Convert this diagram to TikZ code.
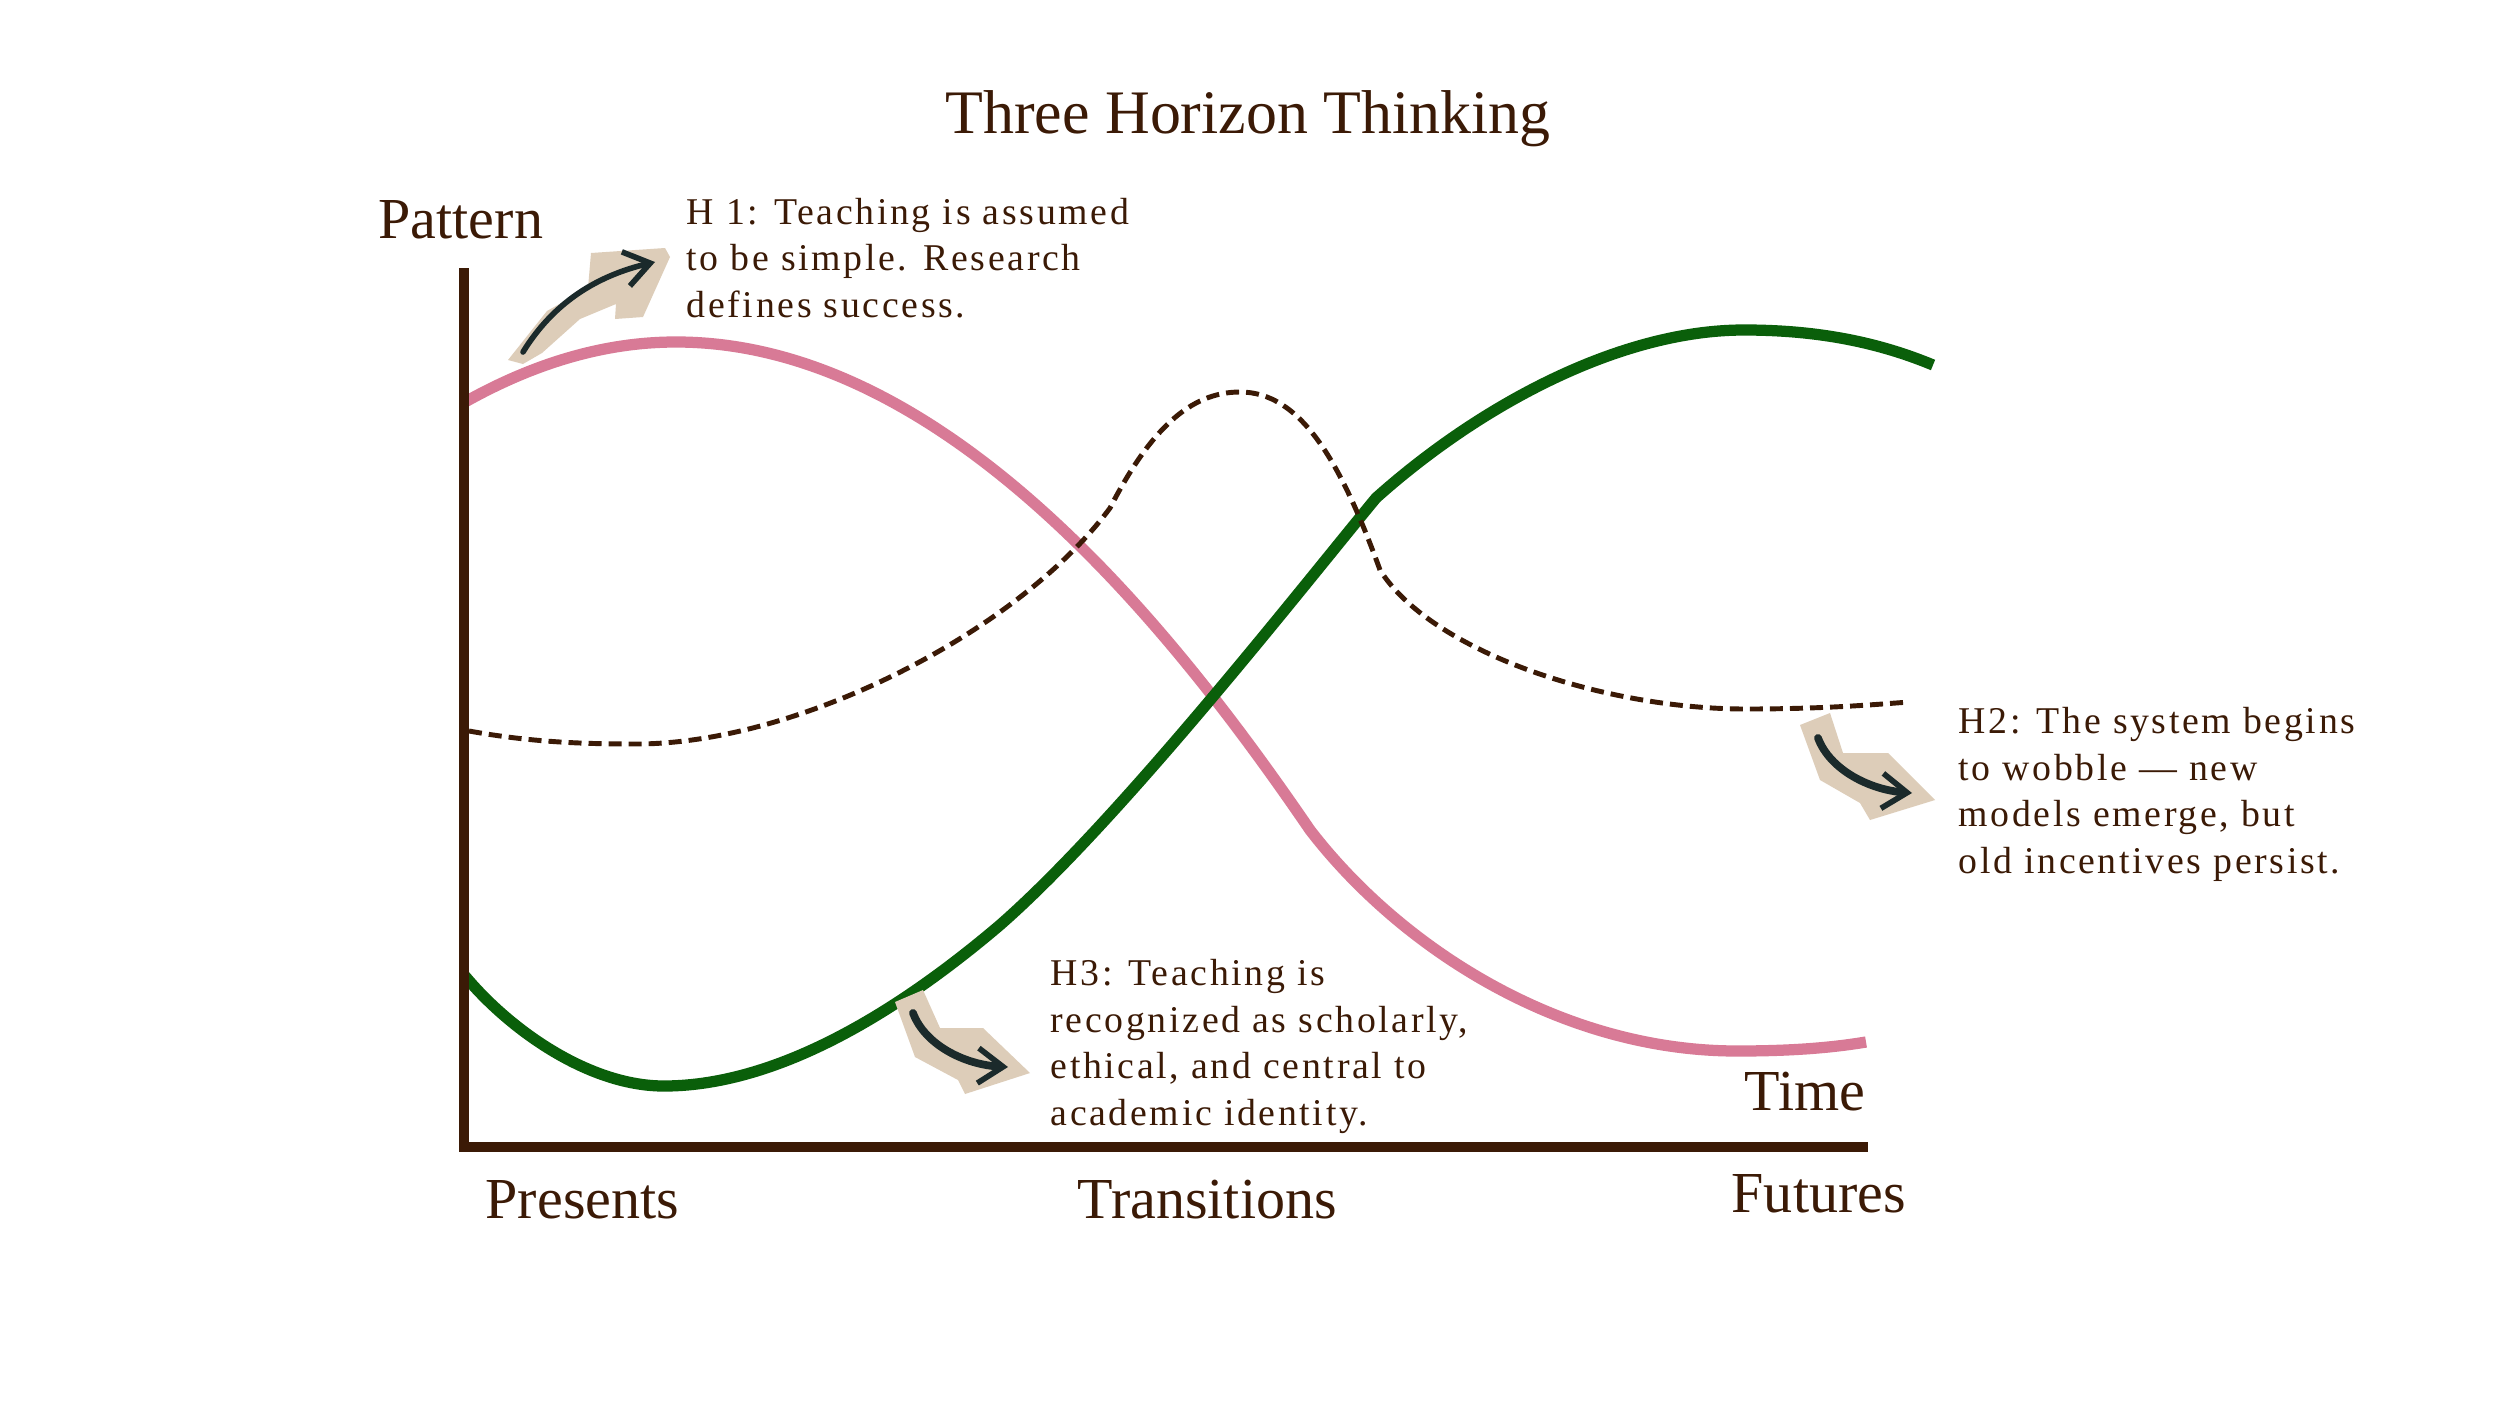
\documentclass[tikz,border=0pt]{standalone}
\usepackage{fontspec}
\setmainfont{Liberation Serif}
\newfontfamily\notefont[LetterSpace=7]{Liberation Serif}
\usetikzlibrary{arrows.meta}
\definecolor{inkbrown}{HTML}{3B1A06}
\definecolor{hpink}{HTML}{D87A96}
\definecolor{hgreen}{HTML}{0A5F0A}
\definecolor{paper}{HTML}{DDCDB9}
\definecolor{inkdark}{HTML}{1B2A2B}
\tikzset{
  axisline/.style={line width=3.1pt, inkbrown},
  hone/.style={line width=3.2pt, hpink, line join=round},
  htwo/.style={line width=1.4pt, inkbrown, dash pattern=on 3.7pt off 2pt},
  hthree/.style={line width=3.2pt, hgreen, line join=round},
  patch/.style={fill=paper, draw=none},
  brush/.style={inkdark, line width=1.6pt, line cap=round,
    -{Straight Barb[length=0.25cm, width=0.35cm, line width=1.6pt]}},
  axislabel/.style={font=\fontsize{16.5}{19}\selectfont, text=inkbrown, inner sep=0pt},
  note/.style={font=\notefont\fontsize{10.75}{13.2}\selectfont, text=inkbrown,
    align=left, inner sep=0pt},
}
\begin{document}
\begin{tikzpicture}[x=0.01cm, y=-0.01cm]
    \useasboundingbox[fill=white] (0,0) rectangle (2500,1406);
    % Titulo
    \node[font=\fontsize{17.6}{21}\selectfont, text=inkbrown, anchor=base] (title) at (1248,133) {Three Horizon Thinking};
    % Horizonte 1 (rosa)
    \draw[hone] (465,402) .. controls (540,360) and (610,342) .. (676,342)
        .. controls (950,342) and (1180,640) .. (1310,830)
        .. controls (1400,947) and (1560,1051) .. (1737,1051)
        .. controls (1790,1051) and (1830,1048) .. (1866,1042);
    % Horizonte 3 (verde)
    \draw[hthree] (465,976) .. controls (510,1030) and (590,1087) .. (666,1086)
        .. controls (780,1085) and (900,1010) .. (1000,925)
        .. controls (1120,820) and (1300,590) .. (1376,498)
        .. controls (1480,405) and (1620,330) .. (1744,330)
        .. controls (1820,330) and (1880,343) .. (1933,365);
    % Horizonte 2 (tracejado)
    \draw[htwo] (469,731) .. controls (530,742) and (580,744) .. (636,744)
        .. controls (800,744) and (1020,630) .. (1110,508)
        .. controls (1150,430) and (1190,392) .. (1240,392)
        .. controls (1300,392) and (1340,460) .. (1380,570)
        .. controls (1430,650) and (1600,709) .. (1746,709)
        .. controls (1820,709) and (1870,705) .. (1909,702);
    % Eixos
    \coordinate (ytop) at (464,268);
    \coordinate (origin) at (464,1147);
    \coordinate (xend) at (1868,1147);
    \draw[axisline] (ytop) -- (origin) -- (xend);
    % Rotulos dos eixos
    \node[axislabel, anchor=base west] (pattern) at (378,238) {Pattern};
    \node[axislabel, anchor=base east] (time) at (1866,1110) {Time};
    \node[axislabel, anchor=base west] (presents) at (485,1218) {Presents};
    \node[axislabel, anchor=base west] (transitions) at (1077,1218) {Transitions};
    \node[axislabel, anchor=base west] (futures) at (1731,1212) {Futures};
    % Setas desenhadas sobre papel
    \fill[patch] (508,360) -- (547,311) -- (588,288) -- (591,253) -- (665,248) -- (670,257) -- (643,317) -- (615,319) -- (616,304) -- (580,319) -- (542,353) -- (523,364) -- cycle;
    \draw[brush] (523,352) .. controls (555,300) and (600,275) .. (655,262);
    \fill[patch] (1800,725) -- (1830,713) -- (1843,753) -- (1888,753) -- (1935,800) -- (1870,820) -- (1860,803) -- (1820,780) -- cycle;
    \draw[brush, line width=2.2pt] (1818,738) .. controls (1830,770) and (1870,790) .. (1912,793);
    \fill[patch] (895,1002) -- (923,990) -- (940,1028) -- (983,1028) -- (1030,1073) -- (965,1094) -- (958,1080) -- (915,1057) -- cycle;
    \draw[brush, line width=2.2pt] (913,1013) .. controls (925,1045) and (965,1065) .. (1008,1067);
    % Notas
    \node[note, anchor=base west] (hone note) at (686,317) {H 1: Teaching is assumed\\to be simple. Research\\defines success.};
    \node[note, anchor=base west] (htwo note) at (1958,873) {H2: The system begins\\to wobble — new\\models emerge, but\\old incentives persist.};
    \node[note, anchor=base west] (hthree note) at (1050,1125) {H3: Teaching is\\recognized as scholarly,\\ethical, and central to\\academic identity.};
\end{tikzpicture}
\end{document}
